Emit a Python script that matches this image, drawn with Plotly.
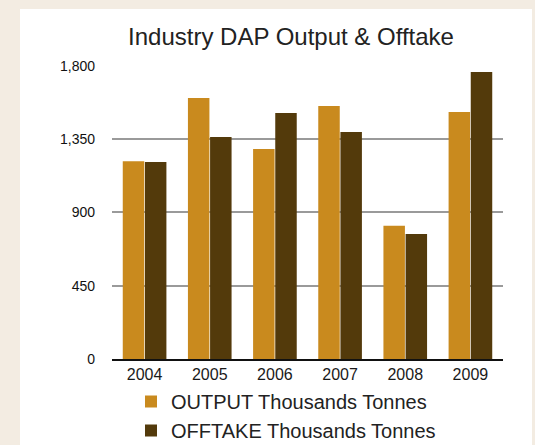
import plotly.graph_objects as go

years = ["2004", "2005", "2006", "2007", "2008", "2009"]
output_kt = [1215, 1603, 1290, 1554, 819, 1517]
offtake_kt = [1210, 1364, 1511, 1395, 768, 1763]
y_ticks = [0, 450, 900, 1350, 1800]
y_tick_text = ["0", "450", "900", "1,350", "1,800"]

C_OUT = "#C98A1E"
C_OFF = "#533A0B"
BG = "#F3ECE2"
FONT = "Liberation Sans, Arial, Helvetica, sans-serif"

fig = go.Figure()
fig.add_trace(go.Bar(x=years, y=output_kt, name="OUTPUT Thousands Tonnes",
                     legendgroup="out",
                     marker=dict(color=C_OUT, line=dict(width=0))))
fig.add_trace(go.Bar(x=years, y=offtake_kt, name="OFFTAKE Thousands Tonnes",
                     legendgroup="off",
                     marker=dict(color=C_OFF, line=dict(width=0))))

W, H = 535, 445
L, R, T, B = 112, 32, 65, 86
PW, PH = W - L - R, H - T - B

fig.update_layout(
    width=W, height=H,
    margin=dict(l=L, r=R, t=T, b=B, pad=0, autoexpand=False),
    paper_bgcolor=BG,
    plot_bgcolor="rgba(0,0,0,0)",
    barmode="group",
    bargap=0.32,
    bargroupgap=0.03,
    font=dict(family=FONT, color="#1a1a1a", size=14),
    title=dict(text="Industry DAP Output & Offtake", x=291 / W, xanchor="center",
               y=1 - 37 / H, yanchor="middle",
               font=dict(family=FONT, size=24, color="#222222")),
    showlegend=True,
    legend=dict(orientation="v", x=(131 - L) / PW, xanchor="left",
                y=-(382 - (H - B)) / PH, yanchor="top",
                font=dict(family=FONT, size=20, color="#222222"),
                bgcolor="rgba(0,0,0,0)", traceorder="normal", tracegroupgap=1),
    shapes=[dict(type="rect", xref="paper", yref="paper", layer="below",
                 x0=-(L - 20) / PW, x1=(W - 3 - L) / PW,
                 y0=-B / PH, y1=(H - 9 - B) / PH,
                 fillcolor="white", line=dict(width=0))],
)
fig.update_xaxes(showline=True, linecolor="#111111", linewidth=2,
                 ticks="", showgrid=False,
                 tickfont=dict(family=FONT, size=16, color="#1a1a1a"))
fig.update_yaxes(range=[0, 1806], tickvals=y_ticks, ticktext=y_tick_text,
                 showgrid=True, gridcolor="#9a9a9a", gridwidth=1.5,
                 zeroline=False, showline=False, ticks="",
                 ticklabelstandoff=16,
                 tickfont=dict(family=FONT, size=14, color="#111111"))

fig.write_html("out.html",
               config={"displayModeBar": False},
               post_script="document.body.style.margin='0';"
                           "document.body.style.background='%s';" % BG)
